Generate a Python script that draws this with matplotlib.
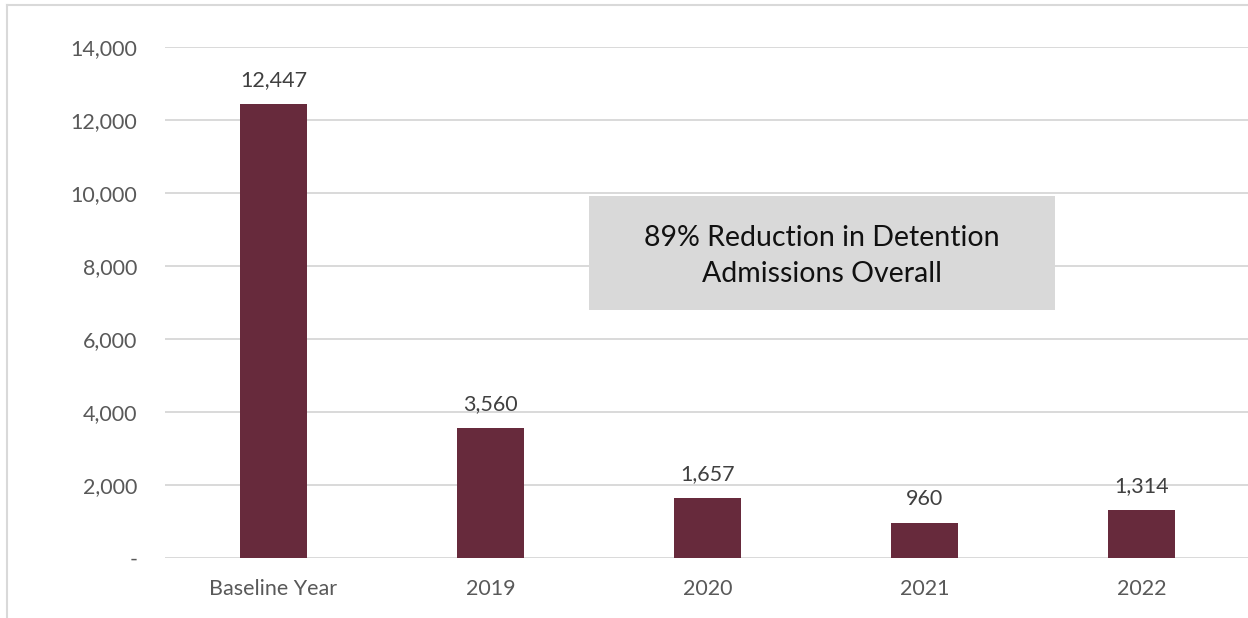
import matplotlib
matplotlib.use("Agg")
import matplotlib.pyplot as plt
from matplotlib.lines import Line2D
from matplotlib.ticker import FuncFormatter

categories = ["Baseline Year", "2019", "2020", "2021", "2022"]
values = [12447, 3560, 1657, 960, 1314]
yticks = [0, 2000, 4000, 6000, 8000, 10000, 12000, 14000]
note = "89% Reduction in Detention\nAdmissions Overall"

plt.rcParams['font.family'] = ['Lato', 'DejaVu Sans']

W, H = 1248, 618
fig = plt.figure(figsize=(W / 100, H / 100), dpi=100)
ax = fig.add_axes([165 / W, 60 / H, 1085 / W, 511 / H])

x = list(range(len(categories)))
ax.bar(x, values, width=0.31, color="#672A3C", zorder=3)
ax.set_xlim(-0.5, len(categories) - 0.5)
ax.set_ylim(0, 14000)
ax.set_yticks(yticks)
ax.yaxis.set_major_formatter(FuncFormatter(lambda v, p: "-" if v == 0 else f"{int(v):,}"))
ax.set_xticks(x)
ax.set_xticklabels(categories)
ax.tick_params(axis="both", length=0, labelsize=15.5, colors="#595959")
ax.tick_params(axis="y", pad=20)
ax.tick_params(axis="x", pad=15)
ax.grid(axis="y", color="#d9d9d9", linewidth=1.4, zorder=0)
for s in ax.spines.values():
    s.set_visible(False)

for xi, v in zip(x, values):
    ax.annotate(f"{v:,}", (xi, v), xytext=(0, 10), textcoords="offset points",
                ha="center", va="bottom", fontsize=15.5, color="#404040")

# annotation box
bx0, bx1, by0, by1 = 589 / W, 1055 / W, 1 - 310 / H, 1 - 196 / H
fig.patches.append(plt.Rectangle((bx0, by0), bx1 - bx0, by1 - by0, transform=fig.transFigure,
                                 facecolor="#d9d9d9", edgecolor="none", zorder=5))
fig.text((bx0 + bx1) / 2, 1 - 256 / H, note, ha="center", va="center",
         fontsize=20.5, color="#111111", linespacing=1.45, zorder=6)

# chart frame
fig.add_artist(Line2D([7 / W, 1], [1 - 5 / H, 1 - 5 / H], transform=fig.transFigure,
                      color="#d9d9d9", linewidth=1.5))
fig.add_artist(Line2D([7 / W, 7 / W], [0, 1 - 5 / H], transform=fig.transFigure,
                      color="#d9d9d9", linewidth=1.5))

fig.savefig("out.png", dpi=100)
